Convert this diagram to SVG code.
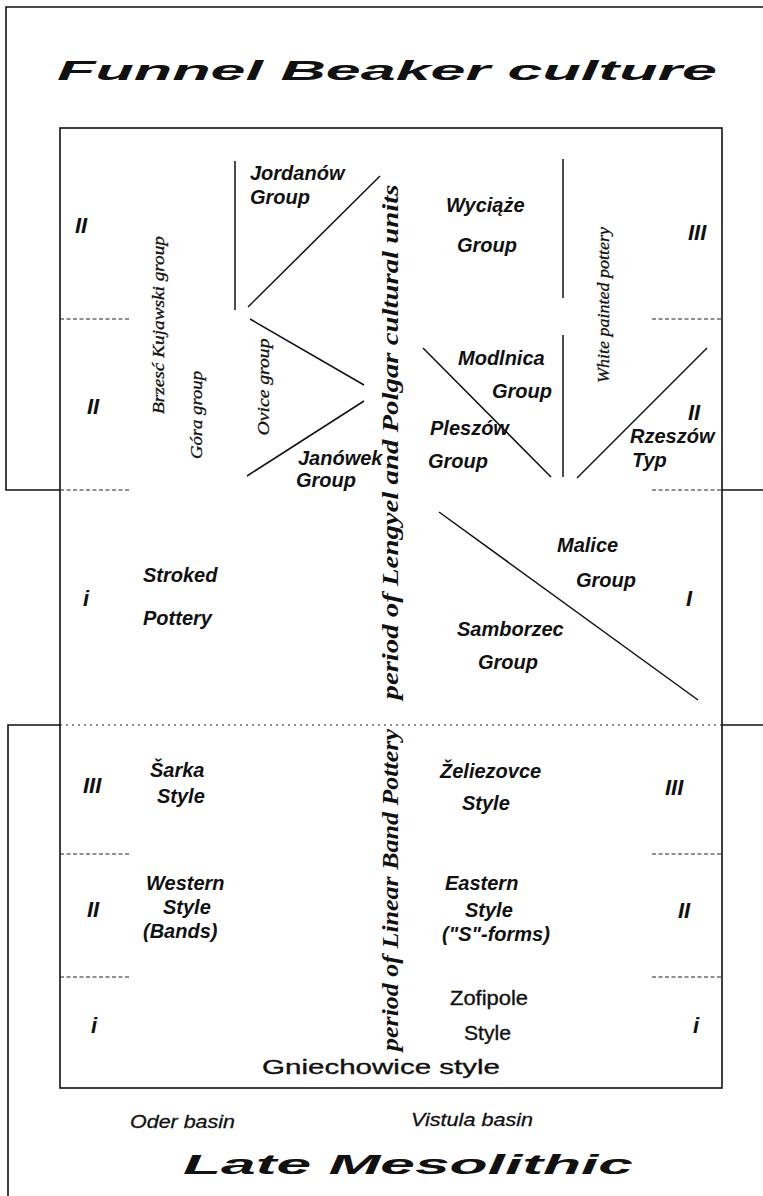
<svg xmlns="http://www.w3.org/2000/svg" width="763" height="1196" viewBox="0 0 763 1196">
<style>
.frame{fill:none;stroke:#111;stroke-width:1.6}
.ln{stroke:#111;stroke-width:1.5;fill:none}
.dash{stroke:#222;stroke-width:1.2;stroke-dasharray:4 2.5}
.dot{stroke:#222;stroke-width:1.2;stroke-dasharray:2 4}
.lbl{font-family:"Liberation Sans",Arial,sans-serif;font-weight:bold;font-style:italic;font-size:20px;fill:#111}
.num{font-family:"Liberation Sans",Arial,sans-serif;font-weight:bold;font-style:italic;font-size:22px;fill:#111}
.big{font-family:"Liberation Sans",Arial,sans-serif;font-weight:bold;font-style:italic;font-size:27px;fill:#111}
.vs{font-family:"Liberation Serif","Times New Roman",serif;font-style:italic;font-size:17px;fill:#111;stroke:#111;stroke-width:0.3}
.vb{font-family:"Liberation Serif","Times New Roman",serif;font-style:italic;font-weight:bold;font-size:23px;fill:#111}
.nar{font-family:"Liberation Sans",Arial,sans-serif;font-size:21px;fill:#111;stroke:#111;stroke-width:0.35}
.nari{font-family:"Liberation Sans",Arial,sans-serif;font-style:italic;font-size:19px;fill:#111;stroke:#111;stroke-width:0.3}
</style>
<g id="frame">
<path class="frame" d="M763,7 H6 V490 H60"/>
<path class="frame" d="M722,490 H763"/>
<path class="frame" d="M60,725 H8 V1196"/>
<path class="frame" d="M722,725 H763"/>
<rect class="frame" x="60" y="128" width="662" height="960"/>
</g>
<g id="titles">
<text class="big" x="57" y="80" textLength="660" lengthAdjust="spacingAndGlyphs">Funnel Beaker culture</text>
<text class="big" x="183" y="1174" textLength="450" lengthAdjust="spacingAndGlyphs">Late Mesolithic</text>
<text class="nar" x="262" y="1074" font-size="28" textLength="238" lengthAdjust="spacingAndGlyphs">Gniechowice style</text>
<text class="nari" x="130" y="1128" textLength="105" lengthAdjust="spacingAndGlyphs">Oder basin</text>
<text class="nari" x="411" y="1126" textLength="122" lengthAdjust="spacingAndGlyphs">Vistula basin</text>
</g>
<g id="dividers">
<line class="dash" x1="60" y1="319" x2="130" y2="319"/>
<line class="dash" x1="60" y1="490" x2="130" y2="490"/>
<line class="dash" x1="60" y1="854" x2="130" y2="854"/>
<line class="dash" x1="60" y1="977" x2="130" y2="977"/>
<line class="dash" x1="652" y1="319" x2="722" y2="319"/>
<line class="dash" x1="652" y1="490" x2="722" y2="490"/>
<line class="dash" x1="652" y1="854" x2="722" y2="854"/>
<line class="dash" x1="652" y1="977" x2="722" y2="977"/>
<line class="dot" x1="60" y1="725" x2="722" y2="725"/>
</g>
<g id="connectors">
<line class="ln" x1="235" y1="161" x2="235" y2="310"/>
<line class="ln" x1="248" y1="307" x2="380" y2="176"/>
<line class="ln" x1="250" y1="319" x2="364" y2="385"/>
<line class="ln" x1="247" y1="476" x2="364" y2="401"/>
<line class="ln" x1="563" y1="159" x2="563" y2="298"/>
<line class="ln" x1="563" y1="335" x2="563" y2="477"/>
<line class="ln" x1="423" y1="348" x2="551" y2="477"/>
<line class="ln" x1="577" y1="478" x2="707" y2="348"/>
<line class="ln" x1="439" y1="512" x2="698" y2="700"/>
</g>
<g id="numerals">
<text class="num" x="75" y="233">II</text>
<text class="num" x="87" y="414">II</text>
<text class="num" x="83" y="606">i</text>
<text class="num" x="83" y="793">III</text>
<text class="num" x="87" y="917">II</text>
<text class="num" x="91" y="1033">i</text>
<text class="num" x="688" y="240">III</text>
<text class="num" x="688" y="420">II</text>
<text class="num" x="686" y="606">I</text>
<text class="num" x="665" y="795">III</text>
<text class="num" x="678" y="918">II</text>
<text class="num" x="693" y="1033">i</text>
</g>
<g id="period-labels">
<text class="vb" transform="translate(398,442) rotate(-90)" text-anchor="middle" textLength="515" lengthAdjust="spacingAndGlyphs">period  of Lengyel and Polgar cultural units</text>
<text class="vb" transform="translate(398,890) rotate(-90)" text-anchor="middle" textLength="322" lengthAdjust="spacingAndGlyphs">period of Linear Band Pottery</text>
</g>
<g id="brzesc"><text class="vs" transform="translate(164,325) rotate(-90)" text-anchor="middle" textLength="178" lengthAdjust="spacingAndGlyphs">Brzesć Kujawski group</text></g>
<g id="gora"><text class="vs" transform="translate(202,415) rotate(-90)" text-anchor="middle" textLength="88" lengthAdjust="spacingAndGlyphs">Góra group</text></g>
<g id="ovice"><text class="vs" transform="translate(269,387) rotate(-90)" text-anchor="middle" textLength="97" lengthAdjust="spacingAndGlyphs">Ovice group</text></g>
<g id="white"><text class="vs" transform="translate(609,305) rotate(-90)" text-anchor="middle" textLength="156" lengthAdjust="spacingAndGlyphs">White painted pottery</text></g>
<g id="jordanow"><text class="lbl" x="250" y="180">Jordanów</text><text class="lbl" x="250" y="204">Group</text></g>
<g id="wyciaze"><text class="lbl" x="446" y="212">Wyciąże</text><text class="lbl" x="457" y="252">Group</text></g>
<g id="modlnica"><text class="lbl" x="458" y="365">Modlnica</text><text class="lbl" x="492" y="398">Group</text></g>
<g id="pleszow"><text class="lbl" x="430" y="435">Pleszów</text><text class="lbl" x="428" y="468">Group</text></g>
<g id="rzeszow"><text class="lbl" x="630" y="443">Rzeszów</text><text class="lbl" x="632" y="467">Typ</text></g>
<g id="janowek"><text class="lbl" x="298" y="465">Janówek</text><text class="lbl" x="296" y="487">Group</text></g>
<g id="stroked"><text class="lbl" x="143" y="582">Stroked</text><text class="lbl" x="143" y="625">Pottery</text></g>
<g id="malice"><text class="lbl" x="557" y="552">Malice</text><text class="lbl" x="576" y="587">Group</text></g>
<g id="samborzec"><text class="lbl" x="457" y="636">Samborzec</text><text class="lbl" x="478" y="669">Group</text></g>
<g id="sarka"><text class="lbl" x="150" y="777">Šarka</text><text class="lbl" x="157" y="803">Style</text></g>
<g id="western"><text class="lbl" x="146" y="890">Western</text><text class="lbl" x="163" y="914">Style</text><text class="lbl" x="143" y="938">(Bands)</text></g>
<g id="zeliezovce"><text class="lbl" x="440" y="778">Želiezovce</text><text class="lbl" x="462" y="810">Style</text></g>
<g id="eastern"><text class="lbl" x="445" y="890">Eastern</text><text class="lbl" x="465" y="917">Style</text><text class="lbl" x="442" y="941">("S"-forms)</text></g>
<g id="zofipole"><text class="nar" x="450" y="1005" textLength="78" lengthAdjust="spacingAndGlyphs">Zofipole</text><text class="nar" x="464" y="1040" textLength="47" lengthAdjust="spacingAndGlyphs">Style</text></g>
</svg>
